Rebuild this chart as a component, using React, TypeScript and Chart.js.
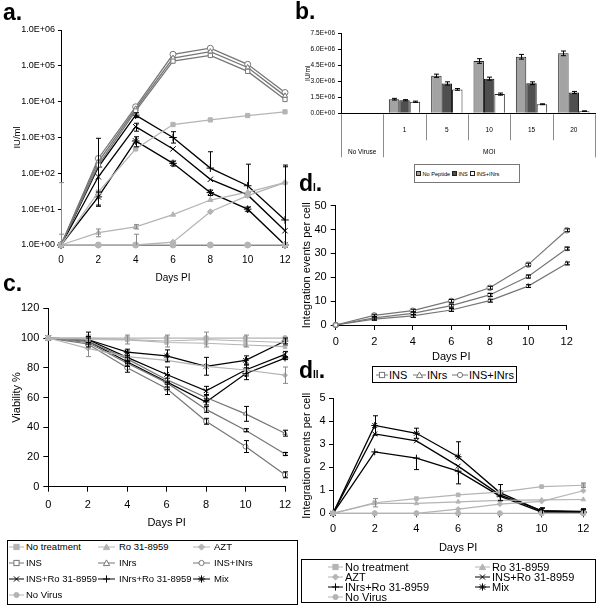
import React, { useEffect, useRef } from 'react';
import { Chart, registerables } from 'chart.js';
Chart.register(...registerables);

const FONT = "'Liberation Sans', Arial, sans-serif";

// ---------- shared categories ----------
const days = ['0', '2', '4', '6', '8', '10', '12'];
const xTitle = 'Days PI';

// ---------- panel a (IU/ml, log) ----------
const aNoTreatment = [1, 30, 480, 2300, 3100, 4100, 5200];
const aRo = [1, 2.2, 3.2, 7, 18, 30, 55];
const aAZT = [1, 1, 1, 1.2, 8.5, 24, 55];
const aINS = [1, 170, 5500, 1.35e5, 1.95e5, 7e4, 1.15e4];
const aINrs = [1, 210, 6300, 1.65e5, 2.5e5, 9e4, 1.45e4];
const aINSINrs = [1, 260, 7200, 2.1e5, 3.1e5, 1.1e5, 1.8e4];
const aINSRo = [1, 80, 2000, 480, 68, 25, 2.5];
const aINrsRo = [1, 150, 4200, 1000, 140, 45, 5];
const aMix = [1, 22, 800, 190, 29, 10, 1];
const aNoVirus = [1, 1, 1, 1, 1, 1, 1];
const aErrNoTreatment = [[0, 54], 0, 0, 0, 0, 0, 0];
const aErrRo = [[0, 1], [0.5, 0.6], [0.4, 0.5], 0, 0, 0, 0];
const aErrAZT = [0, 0, [0, 1], 0, 0, 0, 0];
const aErrINSRo = [0, [68, 870], [500, 500], 0, 0, 0, [0, 150]];
const aErrINrsRo = [0, 0, [600, 700], [300, 450], [0, 260], [0, 135], [4, 165]];
const aErrMix = [0, [9, 8], [250, 250], [30, 30], [5, 5], [1.5, 1.5], 0];
const aTicks = [1, 10, 100, 1e3, 1e4, 1e5, 1e6];

// ---------- panel b (bars) ----------
const bCats = ['No Viruse', '1', '5', '10', '15', '20'];
const bGroup = 'MOI';
const bNoPeptide = [0, 1.32e6, 3.52e6, 4.9e6, 5.3e6, 5.62e6];
const bINS = [0, 1.22e6, 2.8e6, 3.25e6, 2.82e6, 1.95e6];
const bINSINrs = [0, 1.08e6, 2.24e6, 1.8e6, 0.85e6, 0.2e6];
const bErrNoPeptide = [0, 0.08e6, 0.15e6, 0.22e6, 0.22e6, 0.22e6];
const bErrINS = [0, 0.06e6, 0.15e6, 0.14e6, 0.13e6, 0.1e6];
const bErrINSINrs = [0, 0.06e6, 0.08e6, 0.1e6, 0.04e6, 0.03e6];

// ---------- panel c (viability) ----------
const cNoTreatment = [100, 99, 98.7, 97, 96.5, 95.3, 94.2];
const cRo = [100, 100, 99, 98, 99, 98, 97];
const cAZT = [100, 93, 87.5, 85, 81, 78.5, 75];
const cINS = [100, 97, 83, 70, 52, 38, 22];
const cINrs = [100, 98, 86, 72, 60, 49, 36];
const cINSINrs = [100, 96, 80, 66, 44, 27, 8];
const cINSRo = [100, 99, 87, 75.5, 64.5, 78.5, 89];
const cINrsRo = [100, 98, 84, 70.5, 57, 76, 86.5];
const cMix = [100, 99, 90.5, 88, 81, 85, 98];
const cNoVirus = [100, 100, 100, 100, 100, 100, 100];
const cErrRo = [0, 2, 3, 4, 5, 4, 2];
const cErrAZT = [0, 5.5, 0, 0, 0, 3, 5.5];
const cErrINS = [0, 0, 2, 3, 2, 1, 1];
const cErrINrs = [0, 0, 2, 3, 2, 5, 2];
const cErrINSINrs = [0, 0, 3, 4, 2, 4, 2];
const cErrINSRo = [0, 5, 3, 5, 3, 4, 2];
const cErrINrsRo = [0, 2, 3, 5, 2, 4, 1];
const cErrMix = [0, 2, 2, 4, 6, 3, 2];

// ---------- panel dI ----------
const dIINS = [0, 3, 4.9, 8.1, 12.6, 20.3, 32];
const dIINrs = [0, 2.5, 3.8, 6.3, 10.2, 16.3, 25.8];
const dIINSINrs = [0, 4, 6, 10.1, 15.6, 25.3, 39.7];
const dIErr = [0, 0.5, 0.6, 0.6, 0.6, 0.6, 0.6];

// ---------- panel dII ----------
const dNoTreatment = [0, 0.46, 0.64, 0.8, 0.92, 1.16, 1.22];
const dRo = [0, 0.43, 0.43, 0.5, 0.56, 0.58, 0.6];
const dAZT = [0, 0, 0, 0.18, 0.4, 0.52, 0.98];
const dINSRo = [0, 3.45, 3.15, 2.05, 0.8, 0.12, 0.08];
const dINrsRo = [0, 2.67, 2.4, 1.83, 0.75, 0.05, 0.05];
const dMix = [0, 3.82, 3.48, 2.46, 0.9, 0.1, 0.05];
const dNoVirus = [0, 0, 0, 0, 0, 0, 0];
const dErrNoTreatment = [0, 0.18, 0, 0, 0, 0, 0.1];
const dErrINSRo = [0, 0, 0, 0, 0, 0.12, 0.12];
const dErrINrsRo = [0, 0, [0.5, 0], [0.55, 0], 0, 0, 0];
const dErrMix = [0, 0.42, 0.22, [0, 0.65], 0.35, 0.12, 0.12];

// ---------- styles ----------
const LIGHT = '#b4b4b4';
const MID = '#767676';
const BLACK = '#000000';
type Sty = { color: string; shape: string; fill: string };
const STY: Record<string, Sty> = {
  'No treatment': { color: LIGHT, shape: 'rect', fill: LIGHT },
  'Ro 31-8959': { color: LIGHT, shape: 'triangle', fill: LIGHT },
  'AZT': { color: LIGHT, shape: 'rectRot', fill: LIGHT },
  'INS': { color: MID, shape: 'rect', fill: '#ffffff' },
  'INrs': { color: MID, shape: 'triangle', fill: '#ffffff' },
  'INS+INrs': { color: MID, shape: 'circle', fill: '#ffffff' },
  'INS+Ro 31-8959': { color: BLACK, shape: 'crossRot', fill: BLACK },
  'INrs+Ro 31-8959': { color: BLACK, shape: 'cross', fill: BLACK },
  'Mix': { color: BLACK, shape: 'star', fill: BLACK },
  'No Virus': { color: LIGHT, shape: 'circle', fill: LIGHT },
};

function fmtExp(v: number) {
  const [m, e] = Number(v).toExponential(1).split('e');
  const n = parseInt(e, 10);
  return `${m}E${n < 0 ? '-' : '+'}${String(Math.abs(n)).padStart(2, '0')}`;
}

const errPlugin = {
  id: 'errbars',
  afterDatasetsDraw(chart: any) {
    const ctx = chart.ctx;
    chart.data.datasets.forEach((d: any, di: number) => {
      if (!d.errors) return;
      const meta = chart.getDatasetMeta(di);
      const ys = chart.scales[meta.yAxisID];
      ctx.save();
      ctx.strokeStyle = d.errColor || '#000';
      ctx.lineWidth = 1;
      meta.data.forEach((el: any, i: number) => {
        const e = d.errors[i];
        if (!e) return;
        const [dn, up] = Array.isArray(e) ? e : [e, e];
        const v = d.data[i];
        const x = Math.round(el.x) + 0.5;
        const yHi = ys.getPixelForValue(v + up);
        const lo = v - dn;
        let yLo = ys.type === 'logarithmic' && lo <= 0 ? ys.bottom : ys.getPixelForValue(lo);
        yLo = Math.min(yLo, ys.bottom);
        const cw = d.capW || 2.5;
        ctx.beginPath();
        ctx.moveTo(x, yLo);
        ctx.lineTo(x, yHi);
        if (up > 0) { ctx.moveTo(x - cw, yHi); ctx.lineTo(x + cw, yHi); }
        if (dn > 0 && yLo < ys.bottom) { ctx.moveTo(x - cw, yLo); ctx.lineTo(x + cw, yLo); }
        ctx.stroke();
      });
      ctx.restore();
    });
  },
};

function lds(name: string, data: number[], errors?: any[], r = 3, bw = 1.3) {
  const s = STY[name];
  return {
    label: name,
    data,
    errors,
    errColor: s.color === LIGHT ? '#8a8a8a' : '#000',
    borderColor: s.color,
    backgroundColor: s.fill,
    pointStyle: s.shape,
    pointRadius: s.shape === 'star' || s.shape === 'cross' || s.shape === 'crossRot' ? r + 0.8 : r,
    pointBackgroundColor: s.fill,
    pointBorderColor: s.color,
    pointBorderWidth: 1,
    borderWidth: bw,
    tension: 0,
    clip: false,
  };
}

type LP = {
  datasets: any[];
  pad: { top: number; right: number };
  yW: number;
  xH: number;
  y: any;
  yTitle: string;
  yTitleFs: number;
  yTitlePad: number;
  yTickFs: number;
  yTickPad: number;
  yTickLen: number;
  xTickFs: number;
  xTickPad: number;
  xTickLen: number;
  xTitleFs: number;
  xTitlePad: number;
};

function lineConfig(p: LP): any {
  return {
    type: 'line',
    data: { labels: days, datasets: p.datasets },
    plugins: [errPlugin],
    options: {
      responsive: false,
      animation: false,
      layout: { padding: { left: 0, right: p.pad.right, top: p.pad.top, bottom: 0 } },
      plugins: { legend: { display: false }, tooltip: { enabled: false } },
      scales: {
        x: {
          grid: { display: p.xTickLen > 0, drawOnChartArea: false, drawTicks: p.xTickLen > 0, tickLength: p.xTickLen, color: '#000' },
          border: { display: true, color: '#000', width: 1 },
          ticks: { font: { family: FONT, size: p.xTickFs }, color: '#000', padding: p.xTickPad, maxRotation: 0, autoSkip: false },
          title: { display: true, text: xTitle, font: { family: FONT, size: p.xTitleFs }, color: '#000', padding: { top: 0, bottom: p.xTitlePad } },
          afterFit: (s: any) => { s.height = p.xH; },
        },
        y: {
          ...p.y,
          grid: { drawOnChartArea: false, drawTicks: true, tickLength: p.yTickLen, color: '#000' },
          border: { display: true, color: '#000', width: 1 },
          ticks: { ...(p.y.ticks || {}), font: { family: FONT, size: p.yTickFs }, color: '#000', padding: p.yTickPad },
          title: { display: true, text: p.yTitle, font: { family: FONT, size: p.yTitleFs }, color: '#000', padding: { top: p.yTitlePad, bottom: 0 } },
          afterFit: (s: any) => { s.width = p.yW; },
        },
      },
    },
  };
}

const cfgA = lineConfig({
  datasets: [
    lds('No treatment', aNoTreatment, aErrNoTreatment),
    lds('Ro 31-8959', aRo, aErrRo),
    lds('AZT', aAZT, aErrAZT),
    lds('No Virus', aNoVirus),
    lds('INS', aINS),
    lds('INrs', aINrs),
    lds('INS+INrs', aINSINrs),
    lds('INS+Ro 31-8959', aINSRo, aErrINSRo),
    lds('INrs+Ro 31-8959', aINrsRo, aErrINrsRo),
    lds('Mix', aMix, aErrMix),
  ],
  pad: { top: 30, right: 15 },
  yW: 61,
  xH: 45,
  y: {
    type: 'logarithmic',
    min: 1,
    max: 1e6,
    afterBuildTicks: (s: any) => { s.ticks = aTicks.map((v) => ({ value: v })); },
    ticks: { callback: (v: any) => fmtExp(Number(v)), autoSkip: false },
  },
  yTitle: 'IU/ml',
  yTitleFs: 9.5,
  yTitlePad: 11.3,
  yTickFs: 9,
  yTickPad: 3,
  yTickLen: 3,
  xTickFs: 10,
  xTickPad: 9,
  xTickLen: 0,
  xTitleFs: 10,
  xTitlePad: 6,
});

const cfgC = lineConfig({
  datasets: [
    lds('No Virus', cNoVirus, undefined, 2.5, 1.2),
    lds('No treatment', cNoTreatment, undefined, 2.5, 1.2),
    lds('Ro 31-8959', cRo, cErrRo, 2.5, 1.2),
    lds('AZT', cAZT, cErrAZT, 2.5, 1.2),
    lds('INS', cINS, cErrINS, 2.5, 1.2),
    lds('INrs', cINrs, cErrINrs, 2.5, 1.2),
    lds('INS+INrs', cINSINrs, cErrINSINrs, 2.5, 1.2),
    lds('INS+Ro 31-8959', cINSRo, cErrINSRo, 2.5, 1.2),
    lds('INrs+Ro 31-8959', cINrsRo, cErrINrsRo, 2.5, 1.2),
    lds('Mix', cMix, cErrMix, 2.5, 1.2),
  ],
  pad: { top: 18.3, right: 15 },
  yW: 48.3,
  xH: 53.3,
  y: { min: 0, max: 120, ticks: { stepSize: 20 } },
  yTitle: 'Viability %',
  yTitleFs: 11,
  yTitlePad: 10.4,
  yTickFs: 11,
  yTickPad: 4,
  yTickLen: 5,
  xTickFs: 11,
  xTickPad: 6.7,
  xTickLen: 5,
  xTitleFs: 11,
  xTitlePad: 10.4,
});

const cfgDI = lineConfig({
  datasets: [
    lds('INS', dIINS, dIErr, 2.8, 1.2),
    lds('INrs', dIINrs, dIErr, 2.8, 1.2),
    lds('INS+INrs', dIINSINrs, dIErr, 2.8, 1.2),
  ],
  pad: { top: 10.7, right: 33.3 },
  yW: 35.7,
  xH: 40,
  y: { min: 0, max: 50, ticks: { stepSize: 10 } },
  yTitle: 'Integration events per cell',
  yTitleFs: 11,
  yTitlePad: 0.4,
  yTickFs: 11,
  yTickPad: 4,
  yTickLen: 5,
  xTickFs: 11,
  xTickPad: 5.1,
  xTickLen: 5,
  xTitleFs: 11,
  xTitlePad: 1.7,
});

const cfgDII = lineConfig({
  datasets: [
    lds('No Virus', dNoVirus, undefined, 2.6, 1.2),
    lds('No treatment', dNoTreatment, dErrNoTreatment, 2.6, 1.2),
    lds('Ro 31-8959', dRo, undefined, 2.6, 1.2),
    lds('AZT', dAZT, undefined, 2.6, 1.2),
    lds('INS+Ro 31-8959', dINSRo, dErrINSRo, 2.6, 1.3),
    lds('INrs+Ro 31-8959', dINrsRo, dErrINrsRo, 2.6, 1.3),
    lds('Mix', dMix, dErrMix, 2.6, 1.3),
  ],
  pad: { top: 13.3, right: 16.7 },
  yW: 33,
  xH: 43.7,
  y: { min: 0, max: 5, ticks: { stepSize: 1 } },
  yTitle: 'Integration events per cell',
  yTitleFs: 11,
  yTitlePad: 0.2,
  yTickFs: 11,
  yTickPad: 3.5,
  yTickLen: 4,
  xTickFs: 11,
  xTickPad: 5.4,
  xTickLen: 4,
  xTitleFs: 11,
  xTitlePad: 2.7,
});

const bFontSize = 6.5;
const bAxisPlugin = {
  id: 'bAxis',
  afterDraw(chart: any) {
    const ctx = chart.ctx;
    const xs = chart.scales.x;
    const y0 = xs.top;
    const n = bCats.length;
    ctx.save();
    ctx.strokeStyle = '#8c8c8c';
    ctx.lineWidth = 1;
    for (let i = 0; i <= n; i++) {
      const x = Math.round(xs.getPixelForValue(i - 0.5)) + 0.5;
      const long = i === 0 || i === 1 || i === n;
      ctx.beginPath();
      ctx.moveTo(x, y0 + 1);
      ctx.lineTo(x, y0 + (long ? 44 : 27));
      ctx.stroke();
    }
    ctx.fillStyle = '#000';
    ctx.font = `${bFontSize}px ${FONT}`;
    ctx.textAlign = 'center';
    ctx.textBaseline = 'middle';
    const rowY = y0 + 38.7;
    ctx.fillText(bCats[0], xs.getPixelForValue(0), rowY);
    const mid = (xs.getPixelForValue(1) + xs.getPixelForValue(n - 1)) / 2;
    ctx.fillText(bGroup, mid, rowY);
    ctx.restore();
  },
};

const bFont = { family: FONT, size: bFontSize };
const cfgB: any = {
  type: 'bar',
  data: {
    labels: bCats,
    datasets: [
      { label: 'No Peptide', data: bNoPeptide, errors: bErrNoPeptide, capW: 2.5, backgroundColor: '#a3a3a3', borderColor: '#222', borderWidth: 1 },
      { label: 'INS', data: bINS, errors: bErrINS, capW: 2.5, backgroundColor: '#4f4f4f', borderColor: '#111', borderWidth: 1 },
      { label: 'INS+INrs', data: bINSINrs, errors: bErrINSINrs, capW: 2.5, backgroundColor: '#ffffff', borderColor: '#222', borderWidth: 1 },
    ],
  },
  plugins: [errPlugin, bAxisPlugin],
  options: {
    responsive: false,
    animation: false,
    layout: { padding: { left: 0, right: 5, top: 13.3, bottom: 0 } },
    datasets: { bar: { categoryPercentage: 0.74, barPercentage: 1 } },
    plugins: { legend: { display: false }, tooltip: { enabled: false } },
    scales: {
      x: {
        grid: { display: false, drawTicks: false },
        border: { display: true, color: '#000' },
        ticks: { font: bFont, color: '#000', padding: 12.8, autoSkip: false, maxRotation: 0, callback: (_v: any, i: number) => (i === 0 ? '' : bCats[i]) },
        afterFit: (s: any) => { s.height = 48.7; },
      },
      y: {
        min: 0,
        max: 7.5e6,
        grid: { drawOnChartArea: false, drawTicks: true, tickLength: 3, color: '#000' },
        border: { display: true, color: '#000' },
        ticks: { stepSize: 1.5e6, font: bFont, color: '#000', padding: 3, callback: (v: any) => fmtExp(Number(v)) },
        title: { display: true, text: 'IU/ml', font: bFont, color: '#000', padding: { top: 4.1, bottom: 0 } },
        afterFit: (s: any) => { s.width = 41; },
      },
    },
  },
};

function ChartBox({ config, left, top, width, height }: any) {
  const ref = useRef<HTMLCanvasElement>(null);
  useEffect(() => {
    const c = new Chart(ref.current as HTMLCanvasElement, config);
    return () => c.destroy();
  }, []);
  return (
    <canvas ref={ref} width={width} height={height} style={{ position: 'absolute', left, top, width, height, display: 'block' }} />
  );
}

function Sym({ name, w }: { name: string; w: number }) {
  const s = STY[name];
  const h = 10, cy = 5, cx = w / 2, r = 2.6;
  let m: any = null;
  const common = { fill: s.fill, stroke: s.color, strokeWidth: 1 };
  switch (s.shape) {
    case 'rect':
      m = <rect x={cx - r} y={cy - r} width={2 * r} height={2 * r} {...common} />;
      break;
    case 'triangle':
      m = <polygon points={`${cx},${cy - r - 0.5} ${cx + r + 0.5},${cy + r} ${cx - r - 0.5},${cy + r}`} {...common} />;
      break;
    case 'rectRot':
      m = <polygon points={`${cx},${cy - r - 0.5} ${cx + r + 0.5},${cy} ${cx},${cy + r + 0.5} ${cx - r - 0.5},${cy}`} {...common} />;
      break;
    case 'circle':
      m = <circle cx={cx} cy={cy} r={r} {...common} />;
      break;
    case 'cross':
      m = <path d={`M${cx} ${cy - r - 1}V${cy + r + 1}M${cx - r - 1} ${cy}H${cx + r + 1}`} stroke={s.color} strokeWidth={1} />;
      break;
    case 'crossRot':
      m = <path d={`M${cx - r} ${cy - r}L${cx + r} ${cy + r}M${cx + r} ${cy - r}L${cx - r} ${cy + r}`} stroke={s.color} strokeWidth={1} />;
      break;
    case 'star':
      m = <path d={`M${cx - r} ${cy - r}L${cx + r} ${cy + r}M${cx + r} ${cy - r}L${cx - r} ${cy + r}M${cx} ${cy - r - 1}V${cy + r + 1}M${cx - r - 1} ${cy}H${cx + r + 1}`} stroke={s.color} strokeWidth={1} />;
      break;
  }
  return (
    <svg width={w} height={h} style={{ display: 'block', flex: 'none' }}>
      <line x1={0} y1={cy} x2={w} y2={cy} stroke={s.color} strokeWidth={1} />
      {m}
    </svg>
  );
}

function LegItem({ name, x, y, w, gap, fs }: any) {
  return (
    <div style={{ position: 'absolute', left: x, top: y - 7, height: 14, display: 'flex', alignItems: 'center', whiteSpace: 'nowrap', fontFamily: FONT, fontSize: fs, lineHeight: '14px', color: '#000' }}>
      <Sym name={name} w={w} />
      <span style={{ marginLeft: gap }}>{name}</span>
    </div>
  );
}

const cLegendOrder = ['No treatment', 'Ro 31-8959', 'AZT', 'INS', 'INrs', 'INS+INrs', 'INS+Ro 31-8959', 'INrs+Ro 31-8959', 'Mix', 'No Virus'];
const dIILegendOrder = ['No treatment', 'Ro 31-8959', 'AZT', 'INS+Ro 31-8959', 'INrs+Ro 31-8959', 'Mix', 'No Virus'];
const dILegendOrder = ['INS', 'INrs', 'INS+INrs'];
const bLegend = [
  { label: 'No Peptide', color: '#a3a3a3' },
  { label: 'INS', color: '#4f4f4f' },
  { label: 'INS+INrs', color: '#ffffff' },
];

const lab: any = { position: 'absolute', fontFamily: FONT, fontWeight: 'bold', fontSize: 23, lineHeight: '23px', color: '#000', whiteSpace: 'nowrap' };

export default function App() {
  const cCols = [9, 98, 193];
  const cRows = [547.3, 563.3, 579.3, 595];
  const dCols = [328, 475];
  const dRows = [566.7, 576.9, 587.3, 597.4];
  const dIX = [376, 413, 452];
  const dIW = [12, 13, 16];
  return (
    <div style={{ position: 'absolute', left: 0, top: 0, width: 600, height: 606, background: '#fff', overflow: 'hidden' }}>
      <ChartBox config={cfgA} left={0} top={0} width={300} height={290} />
      <ChartBox config={cfgB} left={300} top={20} width={300} height={142} />
      <ChartBox config={cfgC} left={0} top={290} width={300} height={250} />
      <ChartBox config={cfgDI} left={300} top={195} width={300} height={170} />
      <ChartBox config={cfgDII} left={300} top={385} width={300} height={172} />

      <div style={{ ...lab, left: 3, top: 1 }}>a.</div>
      <div style={{ ...lab, left: 295, top: 0 }}>b.</div>
      <div style={{ ...lab, left: 3, top: 272 }}>c.</div>
      <div style={{ ...lab, left: 299, top: 172 }}>d<span style={{ fontSize: 10 }}>I</span>.</div>
      <div style={{ ...lab, left: 299, top: 359 }}>d<span style={{ fontSize: 10 }}>II</span>.</div>

      {/* legend b */}
      <div style={{ position: 'absolute', left: 414, top: 164, width: 106, height: 19, border: '1px solid #777', boxSizing: 'border-box' }} />
      {bLegend.map((b, i) => (
        <div key={b.label} style={{ position: 'absolute', left: [416, 452, 470][i], top: 167.5, height: 12, display: 'flex', alignItems: 'center', fontFamily: FONT, fontSize: 5.6, lineHeight: '12px', whiteSpace: 'nowrap' }}>
          <span style={{ width: 3, height: 3, background: b.color, border: '1px solid #222', display: 'inline-block', marginRight: 1.5, flex: 'none' }} />
          {b.label}
        </div>
      ))}

      {/* legend c */}
      <div style={{ position: 'absolute', left: 7, top: 540, width: 291, height: 65, border: '1px solid #000', boxSizing: 'border-box' }} />
      {cLegendOrder.map((n, i) => (
        <LegItem key={n} name={n} x={cCols[i % 3]} y={cRows[Math.floor(i / 3)]} w={i % 3 === 0 ? 15 : 17} gap={i % 3 === 0 ? 2 : 4} fs={9.5} />
      ))}

      {/* legend dI */}
      <div style={{ position: 'absolute', left: 372, top: 366, width: 145, height: 17, border: '1px solid #000', boxSizing: 'border-box' }} />
      {dILegendOrder.map((n, i) => (
        <LegItem key={n} name={n} x={dIX[i]} y={374.5} w={dIW[i]} gap={1} fs={11} />
      ))}

      {/* legend dII */}
      <div style={{ position: 'absolute', left: 301, top: 559, width: 295, height: 44, border: '1px solid #000', boxSizing: 'border-box' }} />
      {dIILegendOrder.map((n, i) => (
        <LegItem key={n} name={n} x={dCols[i % 2]} y={dRows[Math.floor(i / 2)]} w={15} gap={2} fs={11} />
      ))}
    </div>
  );
}
